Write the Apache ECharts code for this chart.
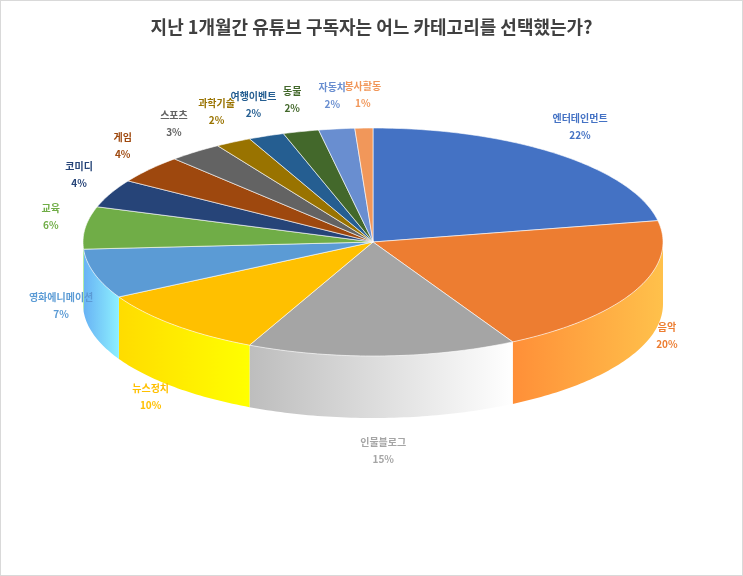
<!DOCTYPE html>
<html><head><meta charset="utf-8">
<script src="https://cdn.jsdelivr.net/npm/echarts@6/dist/echarts.min.js"></script>
<style>html,body{margin:0;padding:0;background:#fff}#c{width:741px;height:574px;border:1px solid #d9d9d9}</style>
</head><body><div id="c"></div>
<script>
const categories=['엔터테인먼트','음악','인물블로그','뉴스정치','영화에니메이션','교육','코미디','게임','스포츠','과학기술','여행이벤트','동물','자동차','봉사활동'];
const values=[22,20,15,10,7,6,4,4,3,2,2,2,2,1];
const colors=['#4472C4','#ED7D31','#A5A5A5','#FFC000','#5B9BD5','#70AD47','#264478','#9E480E','#636363','#997300','#255E91','#43682B','#698ED0','#F1975A'];
const total=values.reduce((a,b)=>a+b,0);
const cx=372,cy=241,rx=290,ry=114,depth=62;
const chart=echarts.init(document.getElementById('c'));
function pt(t,dy){return [cx+rx*Math.sin(t),cy-ry*Math.cos(t)+(dy||0)];}
function renderItem(params,api){
  const i=params.dataIndex;
  let before=0;for(let k=0;k<i;k++)before+=values[k];
  const a0=before/total*2*Math.PI,a1=(before+values[i])/total*2*Math.PI;
  const n=Math.max(4,Math.ceil((a1-a0)*60));
  const top=[[cx,cy]];
  for(let s=0;s<=n;s++)top.push(pt(a0+(a1-a0)*s/n));
  const children=[];
  // side wall for front-facing part (angles between 90° and 270°)
  const f0=Math.max(a0,Math.PI/2),f1=Math.min(a1,1.5*Math.PI);
  if(f1>f0){
    const m=Math.max(4,Math.ceil((f1-f0)*60));const w=[];
    for(let s=0;s<=m;s++)w.push(pt(f0+(f1-f0)*s/m));
    for(let s=m;s>=0;s--)w.push(pt(f0+(f1-f0)*s/m,depth));
    children.push({type:'polygon',z2:1,shape:{points:w},style:{fill:new echarts.graphic.LinearGradient(0,0,1,0,[{offset:0,color:echarts.color.lift(colors[i],-0.15)},{offset:1,color:echarts.color.lift(colors[i],-0.55)}]),stroke:null}});
  }
  children.push({type:'polygon',z2:10,shape:{points:top},style:{fill:colors[i],stroke:'#fff',lineWidth:0.6}});
  const mid=(a0+a1)/2;const sn=Math.sin(mid),cs=Math.cos(mid);
  let lx=cx+rx*1.12*sn, ly=cy-ry*1.22*cs+(cs<0?depth*(-cs)+8:-8);
  children.push({type:'text',z2:20,x:lx,y:ly,style:{text:categories[i]+'\n'+values[i]+'%',align:'center',verticalAlign:'middle',fill:colors[i],font:'bold 10px "Noto Sans CJK KR"',lineHeight:17}});
  return {type:'group',children};
}
chart.setOption({
  title:{text:'지난 1개월간 유튜브 구독자는 어느 카테고리를 선택했는가?',left:'center',top:12,
    textStyle:{fontFamily:'Noto Sans CJK KR',fontSize:18,fontWeight:'bold',color:'#404040'}},
  series:[{type:'custom',coordinateSystem:'none',renderItem,data:values.map((v,i)=>[i,v])}]
});
</script></body></html>
